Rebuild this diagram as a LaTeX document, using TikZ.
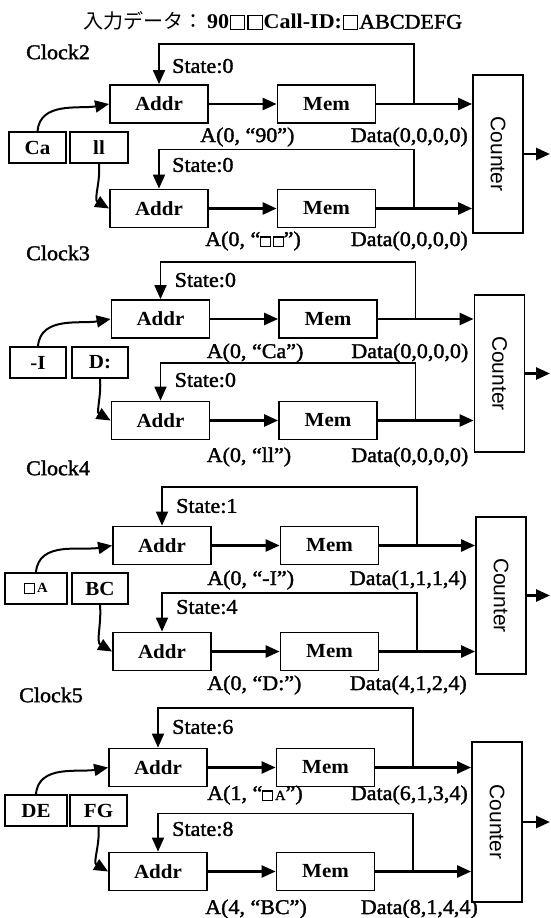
\documentclass[tikz,border=0pt]{standalone}
\usepackage{fontspec}
\setmainfont{Liberation Serif}[FakeStretch=1.05]
\newfontfamily\heavyfont{Liberation Serif}[FakeStretch=1.05, FakeBold=1.6]
\newfontfamily\cjkfont{Noto Sans CJK JP}
\newfontfamily\cntfont{Liberation Sans}
\usetikzlibrary{arrows.meta}

% hollow square standing for a blank character (argument: side length)
\newcommand\sqr[1]{\begingroup\setlength\fboxsep{0pt}\setlength\fboxrule{1.1pt}\fbox{\rule{0pt}{#1}\rule{#1}{0pt}}\endgroup}
\newcommand\txt{\heavyfont\fontsize{21}{25}\selectfont}
\newcommand\boxtxt{\rmfamily\bfseries\fontsize{20}{24}\selectfont}
\newcommand\smallA{{\fontsize{14}{15}\selectfont\sqr{8.5pt}\hspace{2pt}A}}

\tikzset{
  box/.style={draw, line width=1.8pt, inner sep=0pt, font=\boxtxt},
  blk/.style={box, minimum width=98pt, minimum height=38pt},
  inbox/.style={box, minimum height=31pt},
  cntbox/.style={draw, line width=1.8pt, minimum width=50pt, inner sep=0pt,
    label={[rotate=-90, inner sep=0pt, font=\cntfont\fontsize{21}{24}\selectfont]center:Counter}},
  lbl/.style={inner sep=0pt, font=\txt},
  tip/.style={-{Triangle[length=14pt,width=12pt]}},
  flow/.style={tip, line width=2.6pt},
  fb/.style={tip, line width=1.8pt},
  feed/.style={tip, line width=2pt},
}

\begin{document}
\begin{tikzpicture}[x=1pt, y=-1pt]
\useasboundingbox (0,0) rectangle (551,918);
\fill[white] (0,0) rectangle (551,918);

% input string
\node[lbl, anchor=west] (title) at (83,21)
  {{\cjkfont\fontsize{20}{24}\selectfont 入力データ：}\hspace{4pt}{\rmfamily\bfseries 90\hspace{1pt}\sqr{13pt}\hspace{2pt}\sqr{13pt}\hspace{1pt}Call-ID:}\hspace{1pt}\sqr{13pt}\hspace{1pt}ABCDEFG};

% clock labels
\node[lbl, anchor=west] (clk2) at (26,52)  {Clock2};
\node[lbl, anchor=west] (clk3) at (26,253) {Clock3};
\node[lbl, anchor=west] (clk4) at (26,468) {Clock4};
\node[lbl, anchor=west] (clk5) at (19,695) {Clock5};

% ---------------- Clock2 ----------------
\begin{scope}[shift={(0,104)}]
  \node[inbox, minimum width=57pt] (i1a) at (37.5,43.5) {Ca};
  \node[inbox, minimum width=58pt] (i1b) at (99,43.5) {ll};
  \node[blk] (a1u) at (159,0) {Addr};
  \node[blk] (m1u) at (326.5,0) {Mem};
  \node[blk] (a1l) at (159,104.5) {Addr};
  \node[blk] (m1l) at (326.5,104.5) {Mem};
  \node[cntbox, minimum height=158pt] (c1) at (498,50) {};
  \coordinate (j1u) at (414,0);
  \coordinate (j1l) at (414,104.5);
  \coordinate (o1) at (550,50);
  \draw[flow] (a1u) -- (m1u);
  \draw[flow] (a1l) -- (m1l);
  \draw[flow] (m1u.east) -- (m1u.east -| c1.west);
  \draw[flow] (m1l.east) -- (m1l.east -| c1.west);
  \draw[flow] (c1.east) -- (o1);
  \draw[fb] (j1u) -- ++(0,-60) -| (a1u.north);
  \draw[fb] (j1l) -- ++(0,-59) -| (a1l.north);
  \draw[feed] (i1a.north) to[out=85,in=190] (a1u.west);
  \draw[feed] (i1b.south) to[out=-85,in=150] (a1l.west);
  \node[lbl, anchor=west] (s1u) at (172,-38) {State:0};
  \node[lbl, anchor=west] (s1l) at (172,61) {State:0};
  \node[lbl, anchor=west] (ad1u) at (200,33) {A(0, “90”)};
  \node[lbl, anchor=east] (d1u) at (468,33) {Data(0,0,0,0)};
  \node[lbl, anchor=west] (ad1l) at (205,137) {A(0, “{\fontsize{14}{15}\selectfont\sqr{8.5pt}\hspace{2pt}\sqr{8.5pt}}”)};
  \node[lbl, anchor=east] (d1l) at (468,137) {Data(0,0,0,0)};
\end{scope}

% ---------------- Clock3 ----------------
\begin{scope}[shift={(1.5,319)}]
  \node[inbox, minimum width=56pt] (i2a) at (36.5,43.5) {-I};
  \node[inbox, minimum width=56pt] (i2b) at (98.5,43.5) {D:};
  \node[blk] (a2u) at (159,0) {Addr};
  \node[blk] (m2u) at (326.5,0) {Mem};
  \node[blk] (a2l) at (159,101.5) {Addr};
  \node[blk] (m2l) at (326.5,101.5) {Mem};
  \node[cntbox, minimum height=157pt] (c2) at (498,54.5) {};
  \coordinate (j2u) at (414,0);
  \coordinate (j2l) at (414,101.5);
  \coordinate (o2) at (548.5,54.5);
  \draw[flow] (a2u) -- (m2u);
  \draw[flow] (a2l) -- (m2l);
  \draw[flow] (m2u.east) -- (m2u.east -| c2.west);
  \draw[flow] (m2l.east) -- (m2l.east -| c2.west);
  \draw[flow] (c2.east) -- (o2);
  \draw[fb] (j2u) -- ++(0,-57) -| (a2u.north);
  \draw[fb] (j2l) -- ++(0,-57.5) -| (a2l.north);
  \draw[feed] (i2a.north) to[out=85,in=190] (a2u.west);
  \draw[feed] (i2b.south) to[out=-85,in=150] (a2l.west);
  \node[lbl, anchor=west] (s2u) at (173,-39) {State:0};
  \node[lbl, anchor=west] (s2l) at (173,61) {State:0};
  \node[lbl, anchor=west] (ad2u) at (205,34) {A(0, “Ca”)};
  \node[lbl, anchor=east] (d2u) at (467,34) {Data(0,0,0,0)};
  \node[lbl, anchor=west] (ad2l) at (205,138) {A(0, “ll”)};
  \node[lbl, anchor=east] (d2l) at (467,138) {Data(0,0,0,0)};
\end{scope}

% ---------------- Clock4 ----------------
\begin{scope}[shift={(3,545.5)}]
  \node[inbox, minimum width=62pt] (i3a) at (33,43) {\smallA};
  \node[inbox, minimum width=56pt] (i3b) at (97,43) {BC};
  \node[blk] (a3u) at (159,0) {Addr};
  \node[blk] (m3u) at (326.5,0) {Mem};
  \node[blk] (a3l) at (159,106) {Addr};
  \node[blk] (m3l) at (326.5,106) {Mem};
  \node[cntbox, minimum height=157pt] (c3) at (498,50) {};
  \coordinate (j3u) at (414,0);
  \coordinate (j3l) at (414,106);
  \coordinate (o3) at (547,50);
  \draw[flow] (a3u) -- (m3u);
  \draw[flow] (a3l) -- (m3l);
  \draw[flow] (m3u.east) -- (m3u.east -| c3.west);
  \draw[flow] (m3l.east) -- (m3l.east -| c3.west);
  \draw[flow] (c3.east) -- (o3);
  \draw[fb] (j3u) -- ++(0,-58.5) -| (a3u.north);
  \draw[fb] (j3l) -- ++(0,-58.5) -| (a3l.north);
  \draw[feed] (i3a.north) to[out=85,in=190] (a3u.west);
  \draw[feed] (i3b.south) to[out=-85,in=150] (a3l.west);
  \node[lbl, anchor=west] (s3u) at (173,-39.5) {State:1};
  \node[lbl, anchor=west] (s3l) at (173,61.5) {State:4};
  \node[lbl, anchor=west] (ad3u) at (204,34.5) {A(0, “-I”)};
  \node[lbl, anchor=east] (d3u) at (464,34.5) {Data(1,1,1,4)};
  \node[lbl, anchor=west] (ad3l) at (204,139.5) {A(0, “D:”)};
  \node[lbl, anchor=east] (d3l) at (464,139.5) {Data(4,1,2,4)};
\end{scope}

% ---------------- Clock5 ----------------
\begin{scope}[shift={(-1,767.5)}]
  \node[inbox, minimum width=62pt] (i4a) at (37,43) {DE};
  \node[inbox, minimum width=57pt] (i4b) at (99.5,43) {FG};
  \node[blk] (a4u) at (159,0) {Addr};
  \node[blk] (m4u) at (326.5,0) {Mem};
  \node[blk] (a4l) at (159,104) {Addr};
  \node[blk] (m4l) at (326.5,104) {Mem};
  \node[cntbox, minimum height=160pt] (c4) at (498,54.5) {};
  \coordinate (j4u) at (414,0);
  \coordinate (j4l) at (414,104);
  \coordinate (o4) at (551,54.5);
  \draw[flow] (a4u) -- (m4u);
  \draw[flow] (a4l) -- (m4l);
  \draw[flow] (m4u.east) -- (m4u.east -| c4.west);
  \draw[flow] (m4l.east) -- (m4l.east -| c4.west);
  \draw[flow] (c4.east) -- (o4);
  \draw[fb] (j4u) -- ++(0,-59.5) -| (a4u.north);
  \draw[fb] (j4l) -- ++(0,-58) -| (a4l.north);
  \draw[feed] (i4a.north) to[out=85,in=190] (a4u.west);
  \draw[feed] (i4b.south) to[out=-85,in=150] (a4l.west);
  \node[lbl, anchor=west] (s4u) at (173,-40.5) {State:6};
  \node[lbl, anchor=west] (s4l) at (173,61.5) {State:8};
  \node[lbl, anchor=west] (ad4u) at (208,27.5) {A(1, “\smallA”)};
  \node[lbl, anchor=east] (d4u) at (469,27.5) {Data(6,1,3,4)};
  \node[lbl, anchor=west] (ad4l) at (206,141.5) {A(4, “BC”)};
  \node[lbl, anchor=east] (d4l) at (479,141.5) {Data(8,1,4,4)};
\end{scope}
\end{tikzpicture}
\end{document}
